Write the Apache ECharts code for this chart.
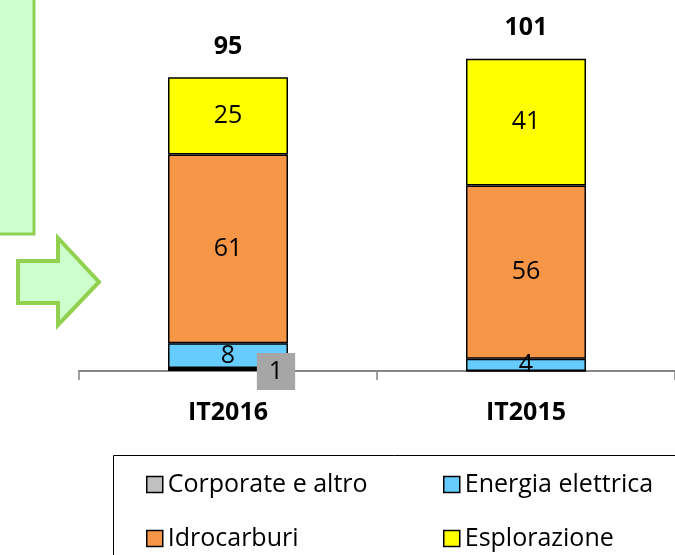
<!DOCTYPE html>
<html>
<head>
<meta charset="utf-8">
<script src="https://cdn.jsdelivr.net/npm/echarts@6/dist/echarts.min.js"></script>
<style>
  html, body { margin: 0; padding: 0; background: #fff; }
</style>
</head>
<body>
<div id="myChart" style="width:675px;height:555px"></div>
<script>
var categories = ['IT2016', 'IT2015']
var corporate = [1, 0]
var energia = [8, 4]
var idrocarburi = [61, 56]
var esplorazione = [25, 41]

var font = '"Open Sans", sans-serif'

var totals = categories.map(function (c, i) {
  return corporate[i] + energia[i] + idrocarburi[i] + esplorazione[i]
})

// hide labels of zero-height segments
function items (data) {
  return data.map(function (v) {
    return v ? v : { value: v, label: { show: false } }
  })
}

function segment (name, data, color, label) {
  return {
    name: name,
    type: 'bar',
    stack: 'tot',
    barWidth: 120,
    data: items(data),
    itemStyle: { color: color, borderColor: '#000', borderWidth: 1.5 },
    label: label || {
      show: true,
      position: 'inside',
      color: '#000',
      fontFamily: font,
      fontSize: 25
    }
  }
}

// one legend per entry so the two columns line up
function legendItem (name, left, top) {
  return {
    left: left,
    top: top,
    icon: 'rect',
    itemWidth: 16,
    itemHeight: 16,
    data: [name],
    itemStyle: { borderColor: '#000', borderWidth: 1.5 },
    textStyle: { color: '#000', fontFamily: font, fontSize: 25 }
  }
}

var myChart = echarts.init(document.getElementById('myChart'))

var options = {
  animation: false,
  grid: { left: 79, right: -4, top: 0, bottom: 184 },
  xAxis: {
    type: 'category',
    data: categories,
    axisLine: { lineStyle: { color: '#868686', width: 2 } },
    axisTick: { show: true, length: 9, lineStyle: { color: '#868686', width: 1.5 } },
    axisLabel: { color: '#000', fontFamily: font, fontSize: 25, fontWeight: 'bold', margin: 29 }
  },
  yAxis: {
    type: 'value',
    min: 0,
    max: 120,
    show: false,
    splitLine: { show: false }
  },
  legend: [
    legendItem('Corporate e altro', 141, 467),
    legendItem('Energia elettrica', 438, 467),
    legendItem('Idrocarburi', 141, 521),
    legendItem('Esplorazione', 438, 521)
  ],
  graphic: [{
    type: 'rect',
    shape: { x: -10, y: -10, width: 44, height: 244 },
    style: { fill: '#ccffcc', stroke: '#92d050', lineWidth: 3 }
  }, {
    type: 'polygon',
    shape: { points: [[18, 261], [58, 261], [58, 238], [99, 282], [58, 325], [58, 303], [18, 303]] },
    style: { fill: '#ccffcc', stroke: '#92d050', lineWidth: 4 }
  }, {
    type: 'rect',
    shape: { x: 113.5, y: 455.5, width: 620, height: 200 },
    style: { fill: 'none', stroke: '#000', lineWidth: 1 }
  }],
  series: [
    segment('Corporate e altro', corporate, '#c0c0c0', {
      show: true,
      position: 'inside',
      offset: [48, 2],
      color: '#000',
      backgroundColor: '#a6a6a6',
      padding: [6, 12, 6, 12],
      fontFamily: font,
      fontSize: 25
    }),
    segment('Energia elettrica', energia, '#66ccff'),
    segment('Idrocarburi', idrocarburi, '#f79646'),
    segment('Esplorazione', esplorazione, '#ffff00'),
    {
      name: 'Totale',
      type: 'bar',
      stack: 'tot',
      barWidth: 120,
      data: categories.map(function () { return 0 }),
      itemStyle: { color: 'transparent', borderWidth: 0 },
      label: {
        show: true,
        position: 'top',
        distance: 18,
        color: '#000',
        fontFamily: font,
        fontSize: 25,
        fontWeight: 'bold',
        formatter: function (p) { return totals[p.dataIndex] }
      }
    }
  ]
}

myChart.setOption(options)
</script>
</body>
</html>
